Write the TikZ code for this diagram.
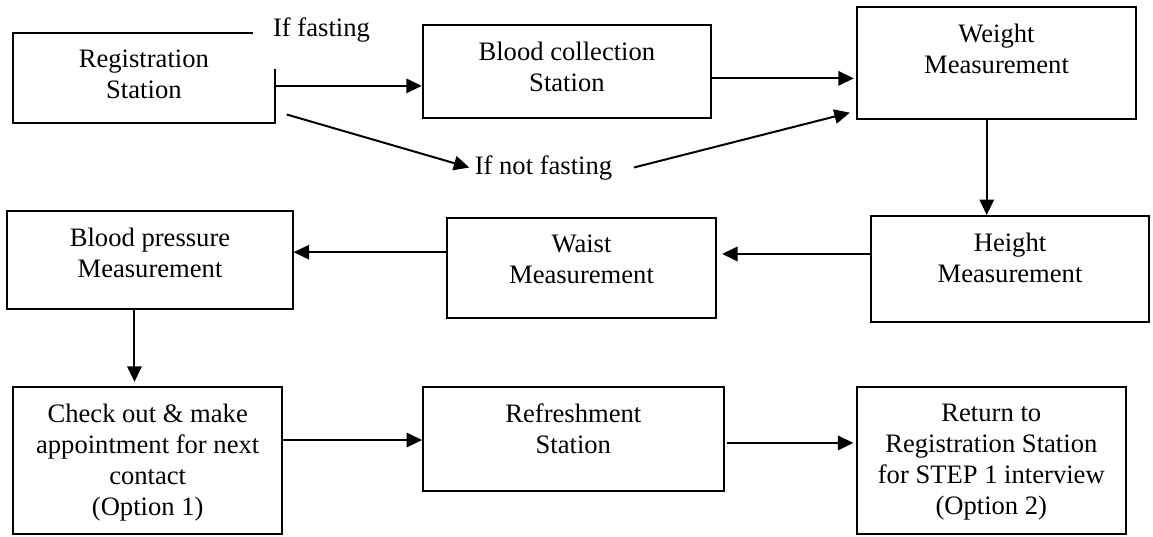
\documentclass[tikz,border=0pt]{standalone}
\usepackage{fontspec}
\setmainfont{Liberation Serif}
\usetikzlibrary{arrows.meta, positioning}

\begin{document}
\begin{tikzpicture}[x=0.451pt, y=-0.451pt, line width=0.9pt,
    >={Triangle[length=7pt, width=6.5pt]},
    font=\fontsize{12}{14}\selectfont,
    station/.style={draw, inner sep=0pt},
    stationtext/.style={align=center, inner sep=0pt, anchor=north},
    flow/.style={->}]
    \useasboundingbox (0,0) rectangle (1153,536);

    % first row
    \node[station, minimum width=118.3pt, minimum height=40.5pt] (reg) at (143.9,77.9) {};
    \node[stationtext] (regtxt) at ([yshift=-7.6pt]reg.north) {Registration\\Station};
    \node[station, minimum width=130pt, minimum height=42.1pt] (blood) at (566.9,71.7) {};
    \node[stationtext] (bloodtxt) at ([yshift=-7.6pt]blood.north) {Blood collection\\Station};
    \node[station, minimum width=125.8pt, minimum height=50.5pt] (weight) at (996.5,63) {};
    \node[stationtext] (weighttxt) at ([yshift=-7.8pt]weight.north) {Weight\\Measurement};

    % labels of the two ways
    \node[fill=white, inner sep=0pt, minimum width=61.8pt, minimum height=35.6pt] (fast) at (321.5,29.5) {If fasting};
    \node[inner sep=2pt] (nofast) at (543.5,167.5) {If not fasting};

    % second row
    \node[station, minimum width=128.7pt, minimum height=44.2pt] (bp) at (150,260) {};
    \node[stationtext] (bptxt) at ([yshift=-7.6pt]bp.north) {Blood pressure\\Measurement};
    \node[station, minimum width=121.3pt, minimum height=45.1pt] (waist) at (581.5,267.7) {};
    \node[stationtext] (waisttxt) at ([yshift=-7.6pt]waist.north) {Waist\\Measurement};
    \node[station, minimum width=125.4pt, minimum height=47.8pt] (height) at (1010,269) {};
    \node[stationtext] (heighttxt) at ([yshift=-7.6pt]height.north) {Height\\Measurement};

    % third row
    \node[station, minimum width=121.1pt, minimum height=66.4pt] (check) at (147.7,460.4) {};
    \node[stationtext] (checktxt) at ([yshift=-7.8pt]check.north) {Check out \& make\\appointment for next\\contact\\(Option 1)};
    \node[station, minimum width=135.5pt, minimum height=47pt] (refresh) at (573.3,438.9) {};
    \node[stationtext] (refreshtxt) at ([yshift=-7.8pt]refresh.north) {Refreshment\\Station};
    \node[station, minimum width=121.5pt, minimum height=66.4pt] (return) at (991.3,460.4) {};
    \node[stationtext] (returntxt) at ([yshift=-7.6pt]return.north) {Return to\\Registration Station\\for STEP 1 interview\\(Option 2)};

    % connectors
    \draw[flow] ([yshift=-3.6pt]reg.east) -- ([yshift=-3.6pt]reg.east -| blood.west);
    \draw[flow, shorten >=1pt] ([yshift=-3pt]blood.east) -- ([yshift=-3pt]blood.east -| weight.west);
    \draw[flow] ([shift={(4.8pt,4.2pt)}]reg.south east) -- (nofast.west);
    \draw[flow] ([xshift=7.3pt]nofast.east) -- ([shift={(-2.8pt,3.3pt)}]weight.south west);
    \draw[flow] ([xshift=-4.4pt]weight.south) -- ([xshift=-4.4pt]weight.south |- height.north);
    \draw[flow, shorten >=2.3pt] ([yshift=6.8pt]height.west) -- ([yshift=6.8pt]height.west -| waist.east);
    \draw[flow] ([yshift=7pt]waist.west) -- ([yshift=7pt]waist.west -| bp.east);
    \draw[flow, shorten >=1.8pt] ([xshift=-7pt]bp.south) -- ([xshift=-7pt]bp.south |- check.north);
    \draw[flow] ([yshift=9.2pt]check.east) -- ([yshift=9.2pt]check.east -| refresh.west);
    \draw[flow, shorten <=1.1pt, shorten >=1pt] ([yshift=-1.8pt]refresh.east) -- ([yshift=-1.8pt]refresh.east -| return.west);
\end{tikzpicture}
\end{document}
